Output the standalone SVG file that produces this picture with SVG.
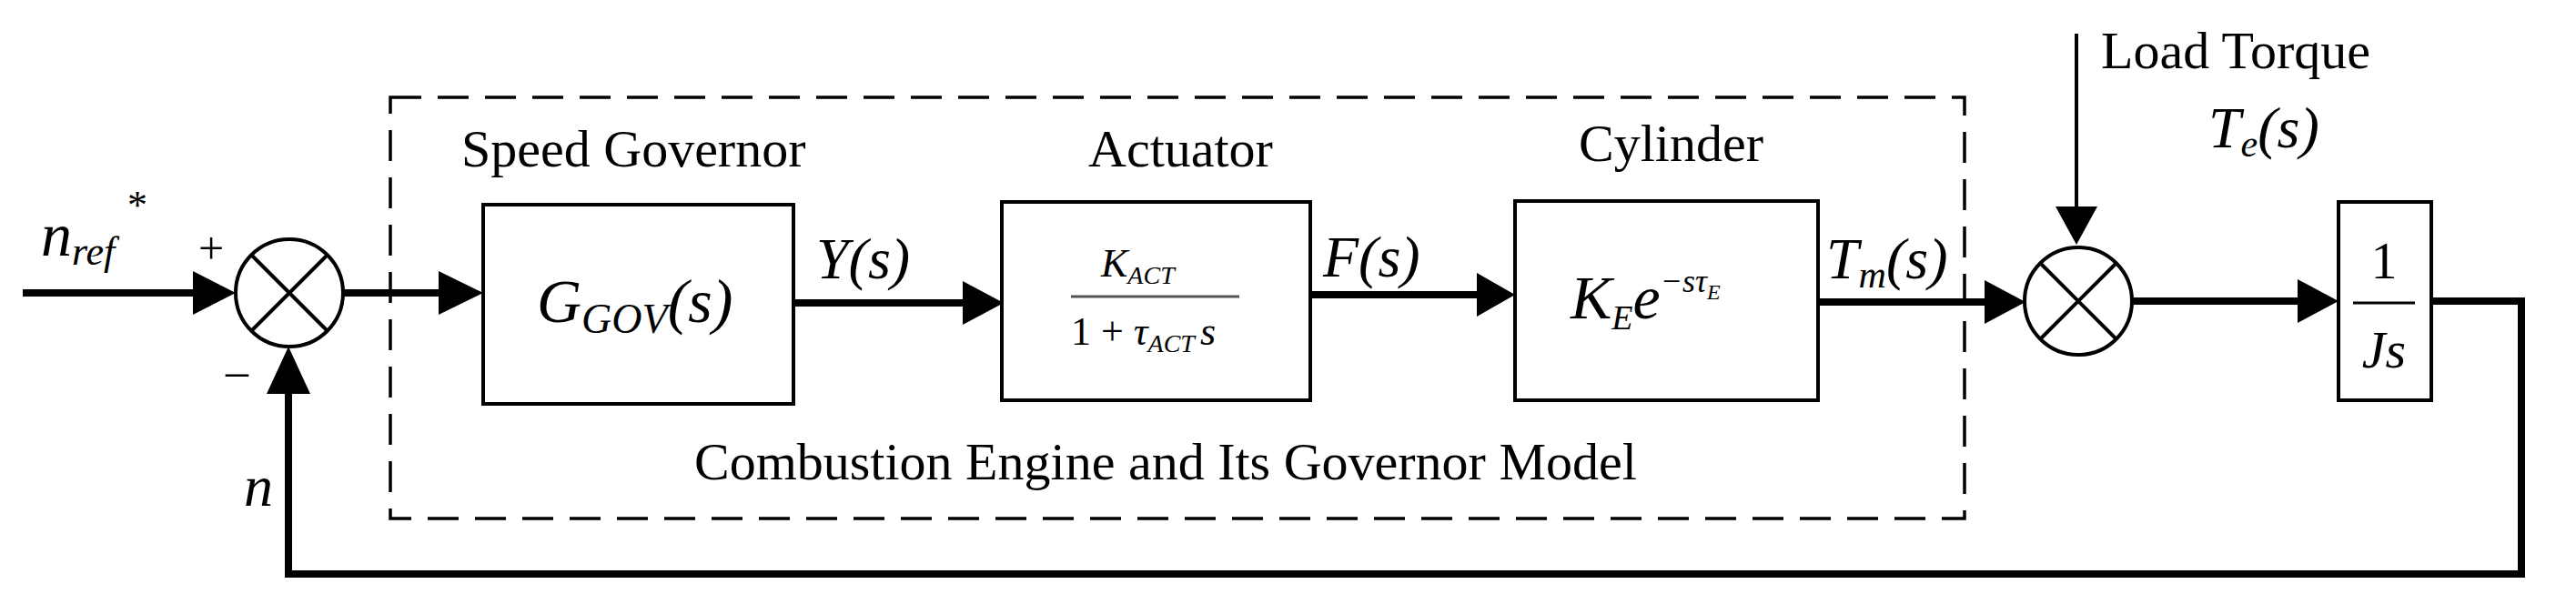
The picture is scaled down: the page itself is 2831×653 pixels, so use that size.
<svg xmlns="http://www.w3.org/2000/svg" width="2831" height="653" viewBox="0 0 2831 653">
<style>
text{font-family:"Liberation Serif","Times New Roman",serif;fill:#000}
.lab{font-size:58px}
.it{font-style:italic}
.blk{fill:#fff;stroke:#000;stroke-width:4}
.thick{fill:none;stroke:#000;stroke-width:8}
.thin{fill:none;stroke:#000;stroke-width:4}
.ar{fill:#000}
</style>
<rect width="2831" height="653" fill="#fff"/>
<g id="frame"><rect x="429" y="107" width="1730" height="463" fill="none" stroke="#000" stroke-width="3.5" stroke-dasharray="34,18"/>
<text class="lab" x="763" y="527">Combustion Engine and Its Governor Model</text></g>
<g id="connectors">
<polyline class="thick" points="25,322 215,322"/>
<polygon class="ar" points="212,298 259,322 212,346"/>
<polyline class="thick" points="377,322 485,322"/>
<polygon class="ar" points="482,298 531,322 482,346"/>
<polyline class="thick" points="872,333 1060,333"/>
<polygon class="ar" points="1058,309 1103,333 1058,357"/>
<polyline class="thick" points="1440,324 1625,324"/>
<polygon class="ar" points="1623,300 1665,324 1623,348"/>
<polyline class="thick" points="1998,332 2183,332"/>
<polygon class="ar" points="2181,308 2226,332 2181,356"/>
<polyline class="thick" points="2342,331 2527,331"/>
<polygon class="ar" points="2525,307 2570,331 2525,355"/>
<polyline class="thick" points="2672,331 2771,331 2771,631 317,631 317,430"/>
<polygon class="ar" points="293,433 317,381 341,433"/>
<polyline class="thin" points="2282,37 2282,230"/>
<polygon class="ar" points="2259,227 2282,269 2305,227"/>
</g>
<g id="sum1"><circle cx="318" cy="322" r="59" fill="#fff" stroke="#000" stroke-width="4"/>
<path class="thin" d="M276,280 L360,364 M360,280 L276,364"/>
<text x="218" y="290" font-size="50">+</text><text x="248" y="425" font-size="50">–</text></g>
<g id="sum2"><circle cx="2284" cy="331" r="59" fill="#fff" stroke="#000" stroke-width="4"/>
<path class="thin" d="M2242,289 L2326,373 M2326,289 L2242,373"/></g>
<g id="gov"><rect class="blk" x="531" y="225" width="341" height="219"/>
<text class="lab" x="507" y="183">Speed Governor</text>
<text x="590" y="354" font-size="68" class="it">G<tspan font-size="46" dy="12">GOV</tspan><tspan dy="-12" font-size="68">(s)</tspan></text></g>
<g id="act"><rect class="blk" x="1101" y="222" width="339" height="218"/>
<text class="lab" x="1196" y="183">Actuator</text>
<text x="1210" y="304" font-size="44" class="it">K<tspan font-size="28" dy="8">ACT</tspan></text>
<line x1="1177" y1="326" x2="1362" y2="326" stroke="#555" stroke-width="3"/>
<text x="1177" y="379" font-size="44">1 + <tspan class="it">τ</tspan><tspan class="it" font-size="28" dy="8">ACT</tspan><tspan class="it" dy="-8" dx="6">s</tspan></text></g>
<g id="cyl"><rect class="blk" x="1665" y="221" width="333" height="219"/>
<text class="lab" x="1735" y="177">Cylinder</text>
<text x="1726" y="350" font-size="68" class="it">K<tspan font-size="38" dy="12">E</tspan><tspan font-size="68" dy="-12">e</tspan><tspan font-size="36" dy="-29">−sτ</tspan><tspan font-size="24" dy="8">E</tspan></text></g>
<g id="js"><rect class="blk" x="2570" y="222" width="102" height="218"/>
<text x="2620" y="306" font-size="58" text-anchor="middle">1</text>
<line x1="2586" y1="333" x2="2654" y2="333" stroke="#000" stroke-width="3"/>
<text x="2620" y="404" font-size="58" text-anchor="middle" class="it">Js</text></g>
<g id="labels">
<text class="it" x="45" y="281" font-size="68">n<tspan font-size="44" dy="10">ref</tspan></text>
<text x="140" y="240" font-size="44">*</text>
<text class="it" x="268" y="556" font-size="64">n</text>
<text class="it" x="897" y="306" font-size="64">Y(s)</text>
<text class="it" x="1454" y="304" font-size="64">F(s)</text>
<text class="it" x="2007" y="306" font-size="64">T<tspan font-size="42" dy="10">m</tspan><tspan dy="-10" font-size="64">(s)</tspan></text>
<text class="lab" x="2309" y="75">Load Torque</text>
<text class="it" x="2427" y="162" font-size="64">T<tspan font-size="42" dy="10">e</tspan><tspan dy="-10" font-size="64">(s)</tspan></text>
</g>
</svg>
